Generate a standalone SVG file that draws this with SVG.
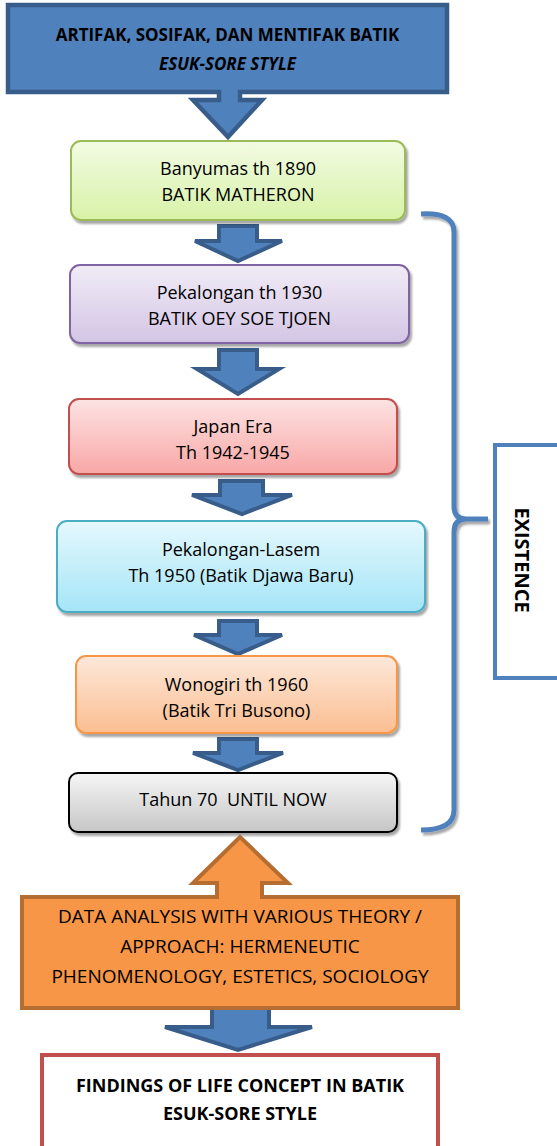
<svg xmlns="http://www.w3.org/2000/svg" width="557" height="1146" viewBox="0 0 557 1146">
<defs>
<linearGradient id="gGreen" x1="0" y1="0" x2="0" y2="1"><stop offset="0" stop-color="#f2fbe3"/><stop offset="1" stop-color="#d8f2a8"/></linearGradient>
<linearGradient id="gPurple" x1="0" y1="0" x2="0" y2="1"><stop offset="0" stop-color="#f1ecf6"/><stop offset="1" stop-color="#d3c5e5"/></linearGradient>
<linearGradient id="gRed" x1="0" y1="0" x2="0" y2="1"><stop offset="0" stop-color="#fde3e3"/><stop offset="1" stop-color="#f8a7a6"/></linearGradient>
<linearGradient id="gCyan" x1="0" y1="0" x2="0" y2="1"><stop offset="0" stop-color="#e5f8fd"/><stop offset="1" stop-color="#a5e5f7"/></linearGradient>
<linearGradient id="gOrange" x1="0" y1="0" x2="0" y2="1"><stop offset="0" stop-color="#fde8da"/><stop offset="1" stop-color="#fbbe91"/></linearGradient>
<linearGradient id="gGray" x1="0" y1="0" x2="0" y2="1"><stop offset="0" stop-color="#f6f6f6"/><stop offset="1" stop-color="#c6c6c6"/></linearGradient>
<filter id="shadow" x="-10%" y="-10%" width="120%" height="130%"><feDropShadow dx="2" dy="3" stdDeviation="1" flood-color="#000" flood-opacity="0.35"/></filter>
</defs>
<style>
text{font-family:"Open Sans","Noto Sans","Liberation Sans",sans-serif;fill:#000;text-anchor:middle}
.t{font-size:18px}
.b{font-size:17px;font-weight:bold}
.box{stroke-width:2;filter:url(#shadow)}
.arrow{fill:#4f81bd;stroke:#385d8a;stroke-width:4;stroke-linejoin:miter}
</style>

<g id="title">
<path d="M8,5 H447 V92 H240 V100 H262 L228,137 L193,100 H219 V92 H8 Z" fill="#4f81bd" stroke="#385d8a" stroke-width="4.5"/>
<text class="b" x="227.5" y="41">ARTIFAK, SOSIFAK, DAN MENTIFAK BATIK</text>
<text class="b" x="227.5" y="70" font-style="italic">ESUK-SORE STYLE</text>
</g>

<g id="connectors">
<path class="arrow" d="M219,226 H257 V241 H282 L238,261 L195,241 H219 Z"/>
<path class="arrow" d="M219,350 H257 V369 H279 L238,394 L197,369 H219 Z"/>
<path class="arrow" d="M220,481 H263 V495 H292 L242,514 L192,495 H220 Z"/>
<path class="arrow" d="M219,621 H257 V635 H282 L238,654 L194,635 H219 Z"/>
<path class="arrow" d="M219,739 H257 V753 H283 L238,770 L193,753 H219 Z"/>
<path class="arrow" d="M212,1008 H269 V1027 H312 L238,1050 L165,1027 H212 Z"/>
<path d="M421,214 Q454,212 454,232 L454,506 Q454,519 466,519 L488,519 M466,519 Q454,519 454,532 L454,810 Q454,830 421,830" fill="none" stroke="#4f81bd" stroke-width="5" filter="url(#shadow)"/>
</g>

<g id="n1">
<rect class="box" x="71" y="141" width="334" height="79" rx="10" fill="url(#gGreen)" stroke="#9bbb59"/>
<text class="t" x="238" y="175">Banyumas th 1890</text>
<text class="t" x="238" y="201">BATIK MATHERON</text>
</g>
<g id="n2">
<rect class="box" x="70" y="265" width="339" height="78" rx="10" fill="url(#gPurple)" stroke="#8064a2"/>
<text class="t" x="239.5" y="299">Pekalongan th 1930</text>
<text class="t" x="239.5" y="325">BATIK OEY SOE TJOEN</text>
</g>
<g id="n3">
<rect class="box" x="69" y="399" width="328" height="75" rx="10" fill="url(#gRed)" stroke="#c0504d"/>
<text class="t" x="233" y="433">Japan Era</text>
<text class="t" x="233" y="459">Th 1942-1945</text>
</g>
<g id="n4">
<rect class="box" x="57" y="521" width="368" height="91" rx="10" fill="url(#gCyan)" stroke="#4bacc6"/>
<text class="t" x="241" y="556">Pekalongan-Lasem</text>
<text class="t" x="241" y="582">Th 1950 (Batik Djawa Baru)</text>
</g>
<g id="n5">
<rect class="box" x="76" y="656" width="321" height="77" rx="10" fill="url(#gOrange)" stroke="#f79646"/>
<text class="t" x="236.5" y="691">Wonogiri th 1960</text>
<text class="t" x="236.5" y="717">(Batik Tri Busono)</text>
</g>
<g id="n6">
<rect class="box" x="69" y="773" width="328" height="59" rx="9" fill="url(#gGray)" stroke="#000"/>
<text class="t" x="233" y="806" xml:space="preserve">Tahun 70  UNTIL NOW</text>
</g>

<g id="analysis">
<path d="M22,897 H217 V883 H193 L240,837 L288,883 H262 V897 H458 V1008 H22 Z" fill="#f79646" stroke="#b66d31" stroke-width="4"/>
<text x="240" y="923" style="font-size:19px">DATA ANALYSIS WITH VARIOUS THEORY /</text>
<text x="240" y="953" style="font-size:19px">APPROACH: HERMENEUTIC</text>
<text x="240" y="983" style="font-size:19px">PHENOMENOLOGY, ESTETICS, SOCIOLOGY</text>
</g>

<g id="existence">
<rect x="495" y="445" width="80" height="233" fill="#fff" stroke="#4f81bd" stroke-width="4"/>
<text class="b" transform="translate(515,560) rotate(90)" x="0" y="0" style="font-size:20px">EXISTENCE</text>
</g>

<g id="findings">
<rect x="42" y="1055" width="396" height="110" fill="#fff" stroke="#c0504d" stroke-width="4"/>
<text class="b" x="240" y="1092" style="font-size:18px">FINDINGS OF LIFE CONCEPT IN BATIK</text>
<text class="b" x="240" y="1120" style="font-size:18px">ESUK-SORE STYLE</text>
</g>
</svg>
